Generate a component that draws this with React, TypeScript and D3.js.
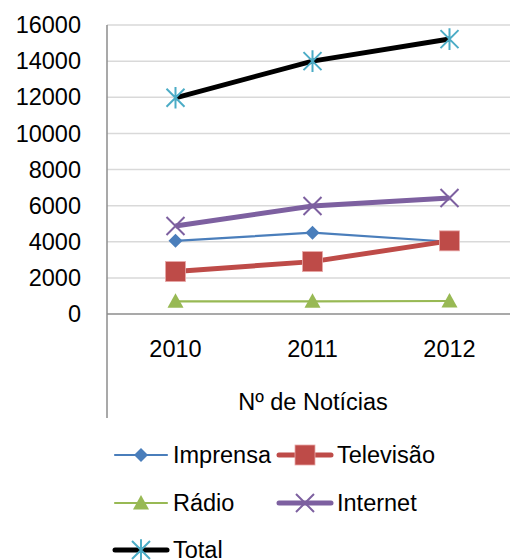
import React from 'react';
import * as d3 from 'd3';

const years = ['2010', '2011', '2012'];
const imprensa = [4050, 4500, 4000];
const televisao = [2350, 2900, 4050];
const radio = [700, 700, 720];
const internet = [4870, 5980, 6420];
const total = [11970, 14000, 15220];
const yTicks = [0, 2000, 4000, 6000, 8000, 10000, 12000, 14000, 16000];

const FONT = '"Liberation Sans", Arial, sans-serif';
const FS = 23.5;

type Series = { name: string; values: number[]; color: string; width: number; marker: string; markerColor: string };

const series: Series[] = [
  { name: 'Imprensa', values: imprensa, color: '#4a7ebb', width: 2.2, marker: 'diamond', markerColor: '#4a7ebb' },
  { name: 'Televisão', values: televisao, color: '#be4b48', width: 5, marker: 'square', markerColor: '#be4b48' },
  { name: 'Rádio', values: radio, color: '#98b954', width: 2.2, marker: 'triangle', markerColor: '#98b954' },
  { name: 'Internet', values: internet, color: '#7d60a0', width: 5, marker: 'x', markerColor: '#7d60a0' },
  { name: 'Total', values: total, color: '#000000', width: 5, marker: 'star', markerColor: '#4bacc6' },
];

const Marker = ({ kind, x, y, color }: { kind: string; x: number; y: number; color: string }) => {
  if (kind === 'diamond') {
    const r = 7;
    return <path d={`M${x},${y - r}L${x + r},${y}L${x},${y + r}L${x - r},${y}Z`} fill={color} />;
  }
  if (kind === 'square') {
    const r = 10;
    return <rect x={x - r} y={y - r} width={r * 2} height={r * 2} fill={color} stroke="#e8a9a8" strokeWidth={0.8} />;
  }
  if (kind === 'triangle') {
    const r = 8;
    return <path d={`M${x},${y - r}L${x + r},${y + r * 0.8}L${x - r},${y + r * 0.8}Z`} fill={color} />;
  }
  if (kind === 'x') {
    const r = 9;
    return (
      <path d={`M${x - r},${y - r}L${x + r},${y + r}M${x - r},${y + r}L${x + r},${y - r}`} stroke={color} strokeWidth={2} />
    );
  }
  const r = 9;
  return (
    <path
      d={`M${x - r},${y - r}L${x + r},${y + r}M${x - r},${y + r}L${x + r},${y - r}M${x},${y - r * 1.2}L${x},${y + r * 1.2}`}
      stroke={color}
      strokeWidth={2}
    />
  );
};

export default function App() {
  const width = 510;
  const height = 560;
  const left = 107;
  const x = d3.scaleBand().domain(years).range([left, left + 411]);
  const y = d3.scaleLinear().domain([0, 16000]).range([314, 25]);
  const cx = (d: string) => (x(d) as number) + x.bandwidth() / 2;

  const line = (vals: number[]) =>
    d3
      .line<number>()
      .x((_, i) => cx(years[i]))
      .y((v) => y(v))(vals) as string;

  const legendPos = [
    [115, 455],
    [279, 455],
    [115, 503],
    [279, 503],
    [115, 550],
  ];

  return (
    <svg width={width} height={height} style={{ position: 'absolute', left: 0, top: 0 }} fontFamily={FONT}>
      <rect width={width} height={height} fill="#fff" />
      {yTicks.map((t) => (
        <g key={t}>
          {t > 0 && <line x1={left} x2={width} y1={y(t)} y2={y(t)} stroke="#d9d9d9" strokeWidth={1.5} />}
          <text x={81} y={y(t)} dy="0.35em" textAnchor="end" fontSize={FS}>
            {t}
          </text>
        </g>
      ))}
      <line x1={left} x2={width} y1={y(0)} y2={y(0)} stroke="#8c8c8c" strokeWidth={1.5} />
      <line x1={left} x2={left} y1={25} y2={418} stroke="#8c8c8c" strokeWidth={1.5} />
      {years.map((yr) => (
        <text key={yr} x={cx(yr)} y={349} dy="0.35em" textAnchor="middle" fontSize={FS}>
          {yr}
        </text>
      ))}
      <text x={313} y={402} dy="0.35em" textAnchor="middle" fontSize={FS}>
        Nº de Notícias
      </text>
      {series.map((s) => (
        <g key={s.name}>
          <path d={line(s.values)} fill="none" stroke={s.color} strokeWidth={s.width} />
          {s.values.map((v, i) => (
            <Marker key={i} kind={s.marker} x={cx(years[i])} y={y(v)} color={s.markerColor} />
          ))}
        </g>
      ))}
      {series.map((s, i) => {
        const [lx, ly] = legendPos[i];
        return (
          <g key={s.name}>
            <line x1={lx} x2={lx + 52} y1={ly} y2={ly} stroke={s.color} strokeWidth={s.width} strokeLinecap="round" />
            <Marker kind={s.marker} x={lx + 26} y={ly} color={s.markerColor} />
            <text x={lx + 58} y={ly} dy="0.35em" fontSize={FS}>
              {s.name}
            </text>
          </g>
        );
      })}
    </svg>
  );
}
